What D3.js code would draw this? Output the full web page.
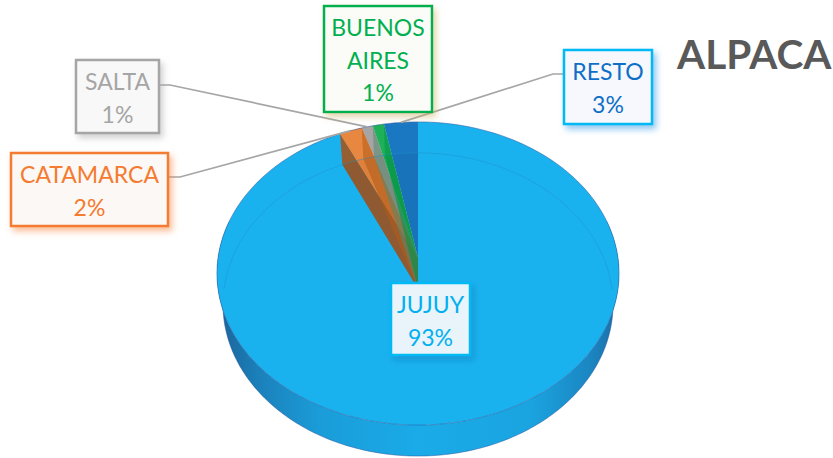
<!DOCTYPE html>
<html>
<head>
<meta charset="utf-8">
<script src="https://cdnjs.cloudflare.com/ajax/libs/d3/7.8.5/d3.min.js"></script>
<style>
  body { margin: 0; background: #fff; }
  svg { display: block; font-family: Lato, "Open Sans", sans-serif; }
</style>
</head>
<body>
<svg id="chart" width="833" height="458"></svg>
<script>
// data, clockwise from 12 o'clock
var categories = ["JUJUY", "CATAMARCA", "SALTA", "BUENOS AIRES", "RESTO"];
var percents = [93, 2, 1, 1, 3];
var title = "ALPACA";

var sliceColors = ["#1AB2EE", "#E8873F", "#A5A5A5", "#1FB05A", "#1A78C2"];
var textColors = ["#00B0F0", "#F47B30", "#A5A5A5", "#00B050", "#0F6FC6"];
var borderColors = ["#00B9F5", "#F47B30", "#A5A5A5", "#00B050", "#00B9F5"];
var shadowColors = ["#0A7FC0", "#F47B30", "#A5A5A5", "#C9B060", "#1A8FE0"];
var boxFills = ["#E8F3FA", "#FCF8F5", "#F8F8F8", "#FBFBF7", "#F6F8FD"];
// see-through cut face behind the end of each small slice
var cutShades = [null, "#B8601E", "#5F8A72", "#009A48", null];

// label boxes: x, y, w, h
var boxes = [
    [391, 283, 79, 72],
    [11, 153, 157, 73],
    [76, 60, 83, 73],
    [324, 6, 108, 106],
    [564, 50, 88, 74]
];
var labelLines = [["JUJUY"], ["CATAMARCA"], ["SALTA"], ["BUENOS", "AIRES"], ["RESTO"]];

var CX = 418;
var TOP = {cy: 258, rx: 200, ry: 150};
var BOTTOM = {cy: 289, rx: 194, ry: 150};
var PERSPECTIVE = 0.102;

var svg = d3.select("#chart");
var defs = svg.append("defs");

/**
 * Project an angle on the pie disc to the screen, near edge drawn larger
 */
function project(angle, level) {
    var s = 1 / (1 + PERSPECTIVE * Math.cos(angle));
    return [CX + level.rx * Math.sin(angle) * s, level.cy - level.ry * Math.cos(angle) * s];
}

function rim(start, end, level) {
    var n = Math.max(4, Math.ceil(Math.abs(end - start) * 60));
    return d3.range(n + 1).map(function(i) {
        return project(start + (end - start) * i / n, level);
    });
}

function center(level) {
    return [CX, level.cy];
}

var line = d3.line();
function closedPath(points) {
    return line(points) + "Z";
}

function cutFace(angle) {
    return closedPath([center(TOP), project(angle, TOP), project(angle, BOTTOM), center(BOTTOM)]);
}

var pie = d3.pie().sort(null).value(function(d) { return d; });
var slices = pie(percents);

// side wall gradient
var wallGrad = defs.append("linearGradient").attr("id", "wall")
    .attr("gradientUnits", "userSpaceOnUse")
    .attr("x1", CX - TOP.rx).attr("x2", CX + TOP.rx).attr("y1", 0).attr("y2", 0);
[[0, "#1B6499"], [0.1, "#1B80BA"], [0.25, "#1A9CD8"], [0.5, "#1AABE8"], [0.78, "#1AA4E0"], [0.93, "#1B86C2"], [1, "#1B6EA6"]]
    .forEach(function(s) {
        wallGrad.append("stop").attr("offset", s[0]).attr("stop-color", s[1]);
    });

// shadow filter per label
categories.forEach(function(c, i) {
    defs.append("filter").attr("id", "shadow" + i)
        .attr("x", "-20%").attr("y", "-20%").attr("width", "150%").attr("height", "150%")
        .append("feDropShadow")
        .attr("dx", 3).attr("dy", 4).attr("stdDeviation", 3)
        .attr("flood-color", shadowColors[i]).attr("flood-opacity", 0.5);
});

var pieGroup = svg.append("g");

// outer wall of the near half
var wallTop = rim(Math.PI * 0.42, Math.PI * 1.58, TOP);
var wallBottom = rim(Math.PI * 1.58, Math.PI * 0.42, BOTTOM);
pieGroup.append("path")
    .attr("d", closedPath(wallTop.concat(wallBottom)))
    .attr("fill", "url(#wall)");
pieGroup.append("path")
    .attr("d", line(rim(Math.PI * 0.42, Math.PI * 1.58, BOTTOM)))
    .attr("fill", "none").attr("stroke", "#2A55A0").attr("stroke-width", 1).attr("stroke-opacity", 0.5);

// top faces
slices.forEach(function(d, i) {
    pieGroup.append("path")
        .attr("d", closedPath([center(TOP)].concat(rim(d.startAngle, d.endAngle, TOP))))
        .attr("fill", sliceColors[i]);
});

// cut face of the first small slice, seen where the big slice ends
pieGroup.append("path")
    .attr("d", cutFace(slices[1].startAngle))
    .attr("fill", "#955E33");

// redraw orange top over the cut face, then shaded see-through bottoms and cuts
pieGroup.append("path")
    .attr("d", closedPath([center(TOP)].concat(rim(slices[1].startAngle, slices[1].endAngle, TOP))))
    .attr("fill", sliceColors[1]);
slices.forEach(function(d, i) {
    if (i === 0) return;
    pieGroup.append("path")
        .attr("d", closedPath([center(BOTTOM)].concat(rim(d.startAngle, d.endAngle, BOTTOM))))
        .attr("fill", "#000").attr("fill-opacity", 0.04);
    if (cutShades[i]) {
        pieGroup.append("path")
            .attr("d", cutFace(d.endAngle))
            .attr("fill", cutShades[i]).attr("fill-opacity", 0.6);
    }
});

// faint far rim of the bottom disc, seen through the top
pieGroup.append("path")
    .attr("d", line(rim(-Math.PI * 0.5, Math.PI * 0.5, BOTTOM)))
    .attr("fill", "none").attr("stroke", "#1A8FCB").attr("stroke-width", 1).attr("stroke-opacity", 0.45);

// rim outline
pieGroup.append("path")
    .attr("d", closedPath(rim(0, Math.PI * 2, TOP)))
    .attr("fill", "none").attr("stroke", "#2A55A0").attr("stroke-width", 1).attr("stroke-opacity", 0.5);

// leader lines, elbow at the label then to the middle of the slice
var leaders = [
    {i: 1, from: [168, 177], elbow: [180, 177]},
    {i: 2, from: [159, 85], elbow: [170, 85]},
    {i: 4, from: [564, 74], elbow: [553, 74]}
];
leaders.forEach(function(l) {
    var d = slices[l.i];
    var end = project((d.startAngle + d.endAngle) / 2, TOP);
    svg.append("path")
        .attr("d", line([l.from, l.elbow, end]))
        .attr("fill", "none").attr("stroke", "#A6A6A6").attr("stroke-width", 1.7);
});

// data labels
categories.forEach(function(c, i) {
    var b = boxes[i];
    var g = svg.append("g");
    g.append("rect")
        .attr("x", b[0]).attr("y", b[1]).attr("width", b[2]).attr("height", b[3])
        .attr("fill", boxFills[i]).attr("stroke", borderColors[i]).attr("stroke-width", 2.5)
        .attr("filter", "url(#shadow" + i + ")");
    labelLines[i].concat([percents[i] + "%"]).forEach(function(t, j) {
        g.append("text")
            .attr("x", b[0] + b[2] / 2)
            .attr("y", b[1] + 30 + j * 32.5)
            .attr("text-anchor", "middle")
            .attr("font-size", 23)
            .attr("fill", textColors[i])
            .text(t);
    });
});

svg.append("text")
    .attr("x", 677).attr("y", 69)
    .attr("font-size", 40.5).attr("font-weight", 700)
    .attr("fill", "#595959")
    .text(title);
</script>
</body>
</html>
